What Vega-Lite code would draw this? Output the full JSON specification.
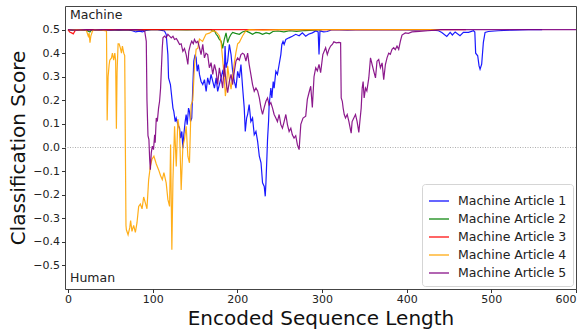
{
  "$schema": "https://vega.github.io/schema/vega-lite/v6.json",
  "width": 511,
  "height": 283,
  "autosize": {"type": "none"},
  "padding": {"left": 65, "top": 6, "right": 11, "bottom": 40},
  "background": "white",
  "config": {
    "font": "DejaVu Sans",
    "view": {"stroke": "#444", "strokeWidth": 1},
    "axis": {"grid": false, "domain": false, "tickColor": "#333", "tickSize": 3.5, "labelColor": "#222", "labelFontSize": 11, "labelPadding": 2, "labelOverlap": false, "titleFontSize": 20, "titleFontWeight": "normal", "titleColor": "#111"}
  },
  "encoding": {
    "x": {"field": "x", "type": "quantitative", "scale": {"domain": [-3.5, 600], "nice": false, "zero": false},
      "axis": {"values": [0, 100, 200, 300, 400, 500, 600], "title": "Encoded Sequence Length", "labelPadding": 1, "titlePadding": 4, "labelOverlap": false}},
    "y": {"field": "y", "type": "quantitative", "scale": {"domain": [-0.6, 0.6], "nice": false},
      "axis": {"values": [-0.5, -0.4, -0.3, -0.2, -0.1, 0, 0.1, 0.2, 0.3, 0.4, 0.5], "format": ".1f", "title": "Classification Score", "titlePadding": 4, "labelOverlap": false, "labelBound": false, "labelFlush": false}}
  },
  "layer": [
    {
      "data": {"values": [{"x": -3.5, "y": 0}, {"x": 600, "y": 0}]},
      "mark": {"type": "line", "color": "#999", "strokeDash": [1, 1.5], "strokeWidth": 0.8},
      "encoding": {}
    },
    {
      "data": {"values": [
        {"series":"Machine Article 1","x":0,"y":0.5},{"series":"Machine Article 1","x":5,"y":0.497},{"series":"Machine Article 1","x":10,"y":0.5},{"series":"Machine Article 1","x":20,"y":0.498},{"series":"Machine Article 1","x":30,"y":0.5},{"series":"Machine Article 1","x":40,"y":0.497},{"series":"Machine Article 1","x":50,"y":0.5},{"series":"Machine Article 1","x":60,"y":0.498},{"series":"Machine Article 1","x":70,"y":0.5},{"series":"Machine Article 1","x":76,"y":0.495},{"series":"Machine Article 1","x":80,"y":0.49},{"series":"Machine Article 1","x":84,"y":0.493},{"series":"Machine Article 1","x":88,"y":0.49},{"series":"Machine Article 1","x":92,"y":0.496},{"series":"Machine Article 1","x":98,"y":0.5},{"series":"Machine Article 1","x":106,"y":0.5},{"series":"Machine Article 1","x":114,"y":0.494},{"series":"Machine Article 1","x":116,"y":0.48},{"series":"Machine Article 1","x":118,"y":0.394},{"series":"Machine Article 1","x":118.8,"y":0.295},{"series":"Machine Article 1","x":121,"y":0.267},{"series":"Machine Article 1","x":122.7,"y":0.21},{"series":"Machine Article 1","x":124,"y":0.167},{"series":"Machine Article 1","x":125,"y":0.153},{"series":"Machine Article 1","x":126.7,"y":0.11},{"series":"Machine Article 1","x":127.8,"y":0.125},{"series":"Machine Article 1","x":129.8,"y":0.097},{"series":"Machine Article 1","x":131.8,"y":0.082},{"series":"Machine Article 1","x":133,"y":0.04},{"series":"Machine Article 1","x":134.5,"y":0.068},{"series":"Machine Article 1","x":135.7,"y":-0.003},{"series":"Machine Article 1","x":136.8,"y":0.054},{"series":"Machine Article 1","x":138.4,"y":0.11},{"series":"Machine Article 1","x":139.6,"y":0.14},{"series":"Machine Article 1","x":140.8,"y":0.097},{"series":"Machine Article 1","x":142.4,"y":0.167},{"series":"Machine Article 1","x":143.5,"y":0.153},{"series":"Machine Article 1","x":144.7,"y":0.11},{"series":"Machine Article 1","x":146.2,"y":0.125},{"series":"Machine Article 1","x":147.4,"y":0.252},{"series":"Machine Article 1","x":148.6,"y":0.366},{"series":"Machine Article 1","x":150.2,"y":0.394},{"series":"Machine Article 1","x":151.4,"y":0.38},{"series":"Machine Article 1","x":152.6,"y":0.323},{"series":"Machine Article 1","x":154,"y":0.352},{"series":"Machine Article 1","x":155.3,"y":0.31},{"series":"Machine Article 1","x":157.2,"y":0.28},{"series":"Machine Article 1","x":159.2,"y":0.267},{"series":"Machine Article 1","x":161.2,"y":0.288},{"series":"Machine Article 1","x":163.2,"y":0.238},{"series":"Machine Article 1","x":165,"y":0.295},{"series":"Machine Article 1","x":167,"y":0.267},{"series":"Machine Article 1","x":169,"y":0.31},{"series":"Machine Article 1","x":171,"y":0.28},{"series":"Machine Article 1","x":173,"y":0.252},{"series":"Machine Article 1","x":175,"y":0.295},{"series":"Machine Article 1","x":176.8,"y":0.238},{"series":"Machine Article 1","x":178.8,"y":0.267},{"series":"Machine Article 1","x":180.8,"y":0.295},{"series":"Machine Article 1","x":182.7,"y":0.323},{"series":"Machine Article 1","x":184.7,"y":0.3},{"series":"Machine Article 1","x":185.5,"y":0.43},{"series":"Machine Article 1","x":186.7,"y":0.338},{"series":"Machine Article 1","x":188.6,"y":0.366},{"series":"Machine Article 1","x":190.6,"y":0.437},{"series":"Machine Article 1","x":192.6,"y":0.394},{"series":"Machine Article 1","x":194.5,"y":0.323},{"series":"Machine Article 1","x":196.5,"y":0.28},{"series":"Machine Article 1","x":198.4,"y":0.252},{"series":"Machine Article 1","x":200.4,"y":0.323},{"series":"Machine Article 1","x":202.4,"y":0.295},{"series":"Machine Article 1","x":204.3,"y":0.352},{"series":"Machine Article 1","x":206.3,"y":0.252},{"series":"Machine Article 1","x":208.2,"y":0.167},{"series":"Machine Article 1","x":209.4,"y":0.068},{"series":"Machine Article 1","x":211,"y":0.125},{"series":"Machine Article 1","x":212.2,"y":0.14},{"series":"Machine Article 1","x":214,"y":0.182},{"series":"Machine Article 1","x":216,"y":0.11},{"series":"Machine Article 1","x":218,"y":0.125},{"series":"Machine Article 1","x":220,"y":0.054},{"series":"Machine Article 1","x":222,"y":0.068},{"series":"Machine Article 1","x":224,"y":0.026},{"series":"Machine Article 1","x":226,"y":-0.037},{"series":"Machine Article 1","x":228,"y":-0.065},{"series":"Machine Article 1","x":229.8,"y":-0.15},{"series":"Machine Article 1","x":231.8,"y":-0.165},{"series":"Machine Article 1","x":233,"y":-0.207},{"series":"Machine Article 1","x":233.8,"y":-0.15},{"series":"Machine Article 1","x":235,"y":-0.037},{"series":"Machine Article 1","x":235.7,"y":0.034},{"series":"Machine Article 1","x":236.9,"y":0.11},{"series":"Machine Article 1","x":237.6,"y":0.18},{"series":"Machine Article 1","x":239.6,"y":0.252},{"series":"Machine Article 1","x":240.8,"y":0.21},{"series":"Machine Article 1","x":242.4,"y":0.28},{"series":"Machine Article 1","x":243.5,"y":0.252},{"series":"Machine Article 1","x":245.5,"y":0.323},{"series":"Machine Article 1","x":247.4,"y":0.31},{"series":"Machine Article 1","x":249.4,"y":0.352},{"series":"Machine Article 1","x":251.4,"y":0.394},{"series":"Machine Article 1","x":252.6,"y":0.437},{"series":"Machine Article 1","x":254,"y":0.45},{"series":"Machine Article 1","x":255.3,"y":0.437},{"series":"Machine Article 1","x":257.3,"y":0.458},{"series":"Machine Article 1","x":261,"y":0.465},{"series":"Machine Article 1","x":265,"y":0.472},{"series":"Machine Article 1","x":269,"y":0.48},{"series":"Machine Article 1","x":273,"y":0.474},{"series":"Machine Article 1","x":276.8,"y":0.486},{"series":"Machine Article 1","x":280.8,"y":0.472},{"series":"Machine Article 1","x":284,"y":0.48},{"series":"Machine Article 1","x":288.6,"y":0.486},{"series":"Machine Article 1","x":292.6,"y":0.494},{"series":"Machine Article 1","x":295.5,"y":0.49},{"series":"Machine Article 1","x":296.5,"y":0.394},{"series":"Machine Article 1","x":297.6,"y":0.494},{"series":"Machine Article 1","x":302,"y":0.49},{"series":"Machine Article 1","x":306,"y":0.492},{"series":"Machine Article 1","x":312,"y":0.5},{"series":"Machine Article 1","x":330,"y":0.498},{"series":"Machine Article 1","x":350,"y":0.5},{"series":"Machine Article 1","x":370,"y":0.499},{"series":"Machine Article 1","x":390,"y":0.5},{"series":"Machine Article 1","x":410,"y":0.498},{"series":"Machine Article 1","x":425,"y":0.5},{"series":"Machine Article 1","x":437.6,"y":0.495},{"series":"Machine Article 1","x":441.5,"y":0.488},{"series":"Machine Article 1","x":447.4,"y":0.471},{"series":"Machine Article 1","x":451.4,"y":0.488},{"series":"Machine Article 1","x":454,"y":0.477},{"series":"Machine Article 1","x":457.3,"y":0.49},{"series":"Machine Article 1","x":463,"y":0.474},{"series":"Machine Article 1","x":467,"y":0.488},{"series":"Machine Article 1","x":473,"y":0.488},{"series":"Machine Article 1","x":479,"y":0.495},{"series":"Machine Article 1","x":480.5,"y":0.49},{"series":"Machine Article 1","x":481.5,"y":0.4},{"series":"Machine Article 1","x":483.9,"y":0.389},{"series":"Machine Article 1","x":485.5,"y":0.346},{"series":"Machine Article 1","x":486.7,"y":0.332},{"series":"Machine Article 1","x":488.6,"y":0.353},{"series":"Machine Article 1","x":490.6,"y":0.446},{"series":"Machine Article 1","x":492.6,"y":0.488},{"series":"Machine Article 1","x":496.5,"y":0.492},{"series":"Machine Article 1","x":508,"y":0.495},{"series":"Machine Article 1","x":524,"y":0.498},{"series":"Machine Article 1","x":543.5,"y":0.5},{"series":"Machine Article 1","x":560,"y":0.5},

        {"series":"Machine Article 2","x":0,"y":0.5},{"series":"Machine Article 2","x":10,"y":0.498},{"series":"Machine Article 2","x":20,"y":0.5},{"series":"Machine Article 2","x":26,"y":0.49},{"series":"Machine Article 2","x":28,"y":0.5},{"series":"Machine Article 2","x":40,"y":0.499},{"series":"Machine Article 2","x":60,"y":0.5},{"series":"Machine Article 2","x":80,"y":0.499},{"series":"Machine Article 2","x":100,"y":0.5},{"series":"Machine Article 2","x":120,"y":0.5},{"series":"Machine Article 2","x":140,"y":0.499},{"series":"Machine Article 2","x":160,"y":0.5},{"series":"Machine Article 2","x":169,"y":0.5},{"series":"Machine Article 2","x":171,"y":0.494},{"series":"Machine Article 2","x":173,"y":0.495},{"series":"Machine Article 2","x":175,"y":0.48},{"series":"Machine Article 2","x":176.8,"y":0.472},{"series":"Machine Article 2","x":178.8,"y":0.458},{"series":"Machine Article 2","x":180.8,"y":0.451},{"series":"Machine Article 2","x":181.6,"y":0.44},{"series":"Machine Article 2","x":182.7,"y":0.42},{"series":"Machine Article 2","x":184.7,"y":0.46},{"series":"Machine Article 2","x":186.7,"y":0.486},{"series":"Machine Article 2","x":188.6,"y":0.445},{"series":"Machine Article 2","x":190.6,"y":0.467},{"series":"Machine Article 2","x":192.6,"y":0.48},{"series":"Machine Article 2","x":194.5,"y":0.488},{"series":"Machine Article 2","x":198,"y":0.484},{"series":"Machine Article 2","x":202.4,"y":0.48},{"series":"Machine Article 2","x":206,"y":0.49},{"series":"Machine Article 2","x":210,"y":0.494},{"series":"Machine Article 2","x":214,"y":0.488},{"series":"Machine Article 2","x":218,"y":0.48},{"series":"Machine Article 2","x":222,"y":0.488},{"series":"Machine Article 2","x":226,"y":0.486},{"series":"Machine Article 2","x":229.8,"y":0.48},{"series":"Machine Article 2","x":234,"y":0.486},{"series":"Machine Article 2","x":238,"y":0.482},{"series":"Machine Article 2","x":242,"y":0.492},{"series":"Machine Article 2","x":248,"y":0.494},{"series":"Machine Article 2","x":255,"y":0.49},{"series":"Machine Article 2","x":262,"y":0.495},{"series":"Machine Article 2","x":270,"y":0.492},{"series":"Machine Article 2","x":280,"y":0.496},{"series":"Machine Article 2","x":290,"y":0.498},{"series":"Machine Article 2","x":300,"y":0.5},

        {"series":"Machine Article 3","x":0,"y":0.5},{"series":"Machine Article 3","x":2,"y":0.49},{"series":"Machine Article 3","x":4.3,"y":0.486},{"series":"Machine Article 3","x":6.3,"y":0.482},{"series":"Machine Article 3","x":8.2,"y":0.494},{"series":"Machine Article 3","x":10,"y":0.5},{"series":"Machine Article 3","x":40,"y":0.5},{"series":"Machine Article 3","x":80,"y":0.5},{"series":"Machine Article 3","x":120,"y":0.5},{"series":"Machine Article 3","x":160,"y":0.5},{"series":"Machine Article 3","x":200,"y":0.5},{"series":"Machine Article 3","x":240,"y":0.5},{"series":"Machine Article 3","x":280,"y":0.5},{"series":"Machine Article 3","x":320,"y":0.5},{"series":"Machine Article 3","x":360,"y":0.5},{"series":"Machine Article 3","x":400,"y":0.5},{"series":"Machine Article 3","x":440,"y":0.5},{"series":"Machine Article 3","x":470,"y":0.5},

        {"series":"Machine Article 4","x":0,"y":0.5},{"series":"Machine Article 4","x":10,"y":0.499},{"series":"Machine Article 4","x":20,"y":0.5},{"series":"Machine Article 4","x":22,"y":0.494},{"series":"Machine Article 4","x":24,"y":0.472},{"series":"Machine Article 4","x":25,"y":0.485},{"series":"Machine Article 4","x":26,"y":0.444},{"series":"Machine Article 4","x":27,"y":0.472},{"series":"Machine Article 4","x":29,"y":0.494},{"series":"Machine Article 4","x":32,"y":0.5},{"series":"Machine Article 4","x":40,"y":0.498},{"series":"Machine Article 4","x":45.5,"y":0.494},{"series":"Machine Article 4","x":46.3,"y":0.115},{"series":"Machine Article 4","x":47.4,"y":0.3},{"series":"Machine Article 4","x":48.6,"y":0.35},{"series":"Machine Article 4","x":49.4,"y":0.37},{"series":"Machine Article 4","x":51.4,"y":0.38},{"series":"Machine Article 4","x":52.5,"y":0.4},{"series":"Machine Article 4","x":54,"y":0.37},{"series":"Machine Article 4","x":55.3,"y":0.4},{"series":"Machine Article 4","x":56.3,"y":0.37},{"series":"Machine Article 4","x":57.2,"y":0.08},{"series":"Machine Article 4","x":58,"y":0.32},{"series":"Machine Article 4","x":59.2,"y":0.44},{"series":"Machine Article 4","x":60.4,"y":0.44},{"series":"Machine Article 4","x":62,"y":0.42},{"series":"Machine Article 4","x":63.2,"y":0.4},{"series":"Machine Article 4","x":64.3,"y":0.43},{"series":"Machine Article 4","x":65.9,"y":0.4},{"series":"Machine Article 4","x":67,"y":0.39},{"series":"Machine Article 4","x":67.8,"y":0.0},{"series":"Machine Article 4","x":68.5,"y":-0.33},{"series":"Machine Article 4","x":69,"y":-0.349},{"series":"Machine Article 4","x":71,"y":-0.37},{"series":"Machine Article 4","x":73,"y":-0.34},{"series":"Machine Article 4","x":74,"y":-0.31},{"series":"Machine Article 4","x":75.6,"y":-0.356},{"series":"Machine Article 4","x":77.6,"y":-0.33},{"series":"Machine Article 4","x":79.6,"y":-0.36},{"series":"Machine Article 4","x":81.5,"y":-0.32},{"series":"Machine Article 4","x":83.5,"y":-0.25},{"series":"Machine Article 4","x":85.5,"y":-0.24},{"series":"Machine Article 4","x":87.5,"y":-0.26},{"series":"Machine Article 4","x":89.4,"y":-0.21},{"series":"Machine Article 4","x":91.4,"y":-0.235},{"series":"Machine Article 4","x":93.3,"y":-0.26},{"series":"Machine Article 4","x":95.3,"y":-0.136},{"series":"Machine Article 4","x":97.3,"y":-0.08},{"series":"Machine Article 4","x":99.2,"y":-0.05},{"series":"Machine Article 4","x":101.5,"y":-0.037},{"series":"Machine Article 4","x":104.3,"y":-0.07},{"series":"Machine Article 4","x":107,"y":-0.094},{"series":"Machine Article 4","x":109.4,"y":-0.12},{"series":"Machine Article 4","x":111.4,"y":-0.136},{"series":"Machine Article 4","x":113.3,"y":-0.107},{"series":"Machine Article 4","x":116,"y":-0.15},{"series":"Machine Article 4","x":118,"y":-0.22},{"series":"Machine Article 4","x":120,"y":-0.25},{"series":"Machine Article 4","x":121.2,"y":0.013},{"series":"Machine Article 4","x":122.7,"y":-0.434},{"series":"Machine Article 4","x":124,"y":-0.136},{"series":"Machine Article 4","x":125.9,"y":0.09},{"series":"Machine Article 4","x":127.9,"y":-0.08},{"series":"Machine Article 4","x":129.8,"y":0.12},{"series":"Machine Article 4","x":131.8,"y":0.07},{"series":"Machine Article 4","x":133.7,"y":-0.18},{"series":"Machine Article 4","x":135.7,"y":0.005},{"series":"Machine Article 4","x":137.6,"y":0.034},{"series":"Machine Article 4","x":139.6,"y":0.09},{"series":"Machine Article 4","x":141.6,"y":-0.037},{"series":"Machine Article 4","x":143.5,"y":-0.065},{"series":"Machine Article 4","x":145.4,"y":0.18},{"series":"Machine Article 4","x":147.4,"y":0.2},{"series":"Machine Article 4","x":149.4,"y":0.346},{"series":"Machine Article 4","x":151.4,"y":0.417},{"series":"Machine Article 4","x":153.3,"y":0.42},{"series":"Machine Article 4","x":155.3,"y":0.46},{"series":"Machine Article 4","x":159,"y":0.45},{"series":"Machine Article 4","x":161,"y":0.465},{"series":"Machine Article 4","x":163,"y":0.48},{"series":"Machine Article 4","x":167,"y":0.485},{"series":"Machine Article 4","x":171,"y":0.495},{"series":"Machine Article 4","x":175,"y":0.49},{"series":"Machine Article 4","x":178.8,"y":0.474},{"series":"Machine Article 4","x":180.8,"y":0.446},{"series":"Machine Article 4","x":182.7,"y":0.374},{"series":"Machine Article 4","x":184.7,"y":0.29},{"series":"Machine Article 4","x":185.9,"y":0.218},{"series":"Machine Article 4","x":187.4,"y":0.26},{"series":"Machine Article 4","x":188.6,"y":0.346},{"series":"Machine Article 4","x":190.6,"y":0.29},{"series":"Machine Article 4","x":192.6,"y":0.247},{"series":"Machine Article 4","x":194.5,"y":0.3},{"series":"Machine Article 4","x":196.5,"y":0.36},{"series":"Machine Article 4","x":198.4,"y":0.403},{"series":"Machine Article 4","x":200.4,"y":0.44},{"series":"Machine Article 4","x":202.4,"y":0.446},{"series":"Machine Article 4","x":206.3,"y":0.474},{"series":"Machine Article 4","x":210,"y":0.494},{"series":"Machine Article 4","x":214,"y":0.5},{"series":"Machine Article 4","x":230,"y":0.498},{"series":"Machine Article 4","x":250,"y":0.5},{"series":"Machine Article 4","x":270,"y":0.5},{"series":"Machine Article 4","x":300,"y":0.5},{"series":"Machine Article 4","x":330,"y":0.5},{"series":"Machine Article 4","x":360,"y":0.5},{"series":"Machine Article 4","x":400,"y":0.5},{"series":"Machine Article 4","x":440,"y":0.5},

        {"series":"Machine Article 5","x":0,"y":0.5},{"series":"Machine Article 5","x":10,"y":0.498},{"series":"Machine Article 5","x":20,"y":0.5},{"series":"Machine Article 5","x":30,"y":0.499},{"series":"Machine Article 5","x":40,"y":0.5},{"series":"Machine Article 5","x":50,"y":0.498},{"series":"Machine Article 5","x":60,"y":0.5},{"series":"Machine Article 5","x":70,"y":0.499},{"series":"Machine Article 5","x":80,"y":0.5},{"series":"Machine Article 5","x":88,"y":0.497},{"series":"Machine Article 5","x":90.6,"y":0.494},{"series":"Machine Article 5","x":92.5,"y":0.45},{"series":"Machine Article 5","x":93.3,"y":0.2},{"series":"Machine Article 5","x":94.5,"y":0.05},{"series":"Machine Article 5","x":95.6,"y":0.034},{"series":"Machine Article 5","x":96.5,"y":-0.05},{"series":"Machine Article 5","x":97.3,"y":-0.094},{"series":"Machine Article 5","x":98.4,"y":-0.023},{"series":"Machine Article 5","x":99.6,"y":0.006},{"series":"Machine Article 5","x":101,"y":-0.009},{"series":"Machine Article 5","x":102.4,"y":0.054},{"series":"Machine Article 5","x":103,"y":0.02},{"series":"Machine Article 5","x":104.3,"y":0.125},{"series":"Machine Article 5","x":105.5,"y":0.11},{"series":"Machine Article 5","x":107,"y":0.167},{"series":"Machine Article 5","x":108.2,"y":0.196},{"series":"Machine Article 5","x":109.4,"y":0.252},{"series":"Machine Article 5","x":110.2,"y":0.323},{"series":"Machine Article 5","x":111.4,"y":0.423},{"series":"Machine Article 5","x":112.2,"y":0.465},{"series":"Machine Article 5","x":114,"y":0.472},{"series":"Machine Article 5","x":116,"y":0.465},{"series":"Machine Article 5","x":118,"y":0.48},{"series":"Machine Article 5","x":120,"y":0.472},{"series":"Machine Article 5","x":122,"y":0.465},{"series":"Machine Article 5","x":124,"y":0.472},{"series":"Machine Article 5","x":125.9,"y":0.458},{"series":"Machine Article 5","x":128,"y":0.462},{"series":"Machine Article 5","x":129.8,"y":0.451},{"series":"Machine Article 5","x":131.8,"y":0.437},{"series":"Machine Article 5","x":133.7,"y":0.44},{"series":"Machine Article 5","x":135.7,"y":0.408},{"series":"Machine Article 5","x":137.6,"y":0.42},{"series":"Machine Article 5","x":139.6,"y":0.394},{"series":"Machine Article 5","x":141.6,"y":0.352},{"series":"Machine Article 5","x":142.7,"y":0.408},{"series":"Machine Article 5","x":144.7,"y":0.437},{"series":"Machine Article 5","x":146.2,"y":0.451},{"series":"Machine Article 5","x":148,"y":0.44},{"series":"Machine Article 5","x":149.4,"y":0.458},{"series":"Machine Article 5","x":151.4,"y":0.444},{"series":"Machine Article 5","x":153.3,"y":0.45},{"series":"Machine Article 5","x":155.3,"y":0.423},{"series":"Machine Article 5","x":157.2,"y":0.394},{"series":"Machine Article 5","x":159.2,"y":0.437},{"series":"Machine Article 5","x":161.2,"y":0.38},{"series":"Machine Article 5","x":163,"y":0.4},{"series":"Machine Article 5","x":165,"y":0.394},{"series":"Machine Article 5","x":167,"y":0.338},{"series":"Machine Article 5","x":169,"y":0.36},{"series":"Machine Article 5","x":171,"y":0.31},{"series":"Machine Article 5","x":173,"y":0.352},{"series":"Machine Article 5","x":175,"y":0.323},{"series":"Machine Article 5","x":176.8,"y":0.267},{"series":"Machine Article 5","x":178.8,"y":0.338},{"series":"Machine Article 5","x":180.8,"y":0.295},{"series":"Machine Article 5","x":182.7,"y":0.252},{"series":"Machine Article 5","x":184.7,"y":0.352},{"series":"Machine Article 5","x":186.7,"y":0.28},{"series":"Machine Article 5","x":188.6,"y":0.233},{"series":"Machine Article 5","x":190.6,"y":0.28},{"series":"Machine Article 5","x":192.6,"y":0.31},{"series":"Machine Article 5","x":194.5,"y":0.267},{"series":"Machine Article 5","x":196.5,"y":0.323},{"series":"Machine Article 5","x":198.4,"y":0.366},{"series":"Machine Article 5","x":200.4,"y":0.38},{"series":"Machine Article 5","x":202.4,"y":0.37},{"series":"Machine Article 5","x":204.3,"y":0.394},{"series":"Machine Article 5","x":206.3,"y":0.4},{"series":"Machine Article 5","x":208.2,"y":0.394},{"series":"Machine Article 5","x":210.2,"y":0.366},{"series":"Machine Article 5","x":212.2,"y":0.4},{"series":"Machine Article 5","x":214,"y":0.352},{"series":"Machine Article 5","x":216,"y":0.31},{"series":"Machine Article 5","x":218,"y":0.267},{"series":"Machine Article 5","x":220,"y":0.238},{"series":"Machine Article 5","x":222,"y":0.252},{"series":"Machine Article 5","x":224,"y":0.24},{"series":"Machine Article 5","x":226,"y":0.21},{"series":"Machine Article 5","x":228,"y":0.167},{"series":"Machine Article 5","x":229.8,"y":0.14},{"series":"Machine Article 5","x":231.8,"y":0.17},{"series":"Machine Article 5","x":233.8,"y":0.196},{"series":"Machine Article 5","x":235.7,"y":0.21},{"series":"Machine Article 5","x":237.6,"y":0.18},{"series":"Machine Article 5","x":239.6,"y":0.19},{"series":"Machine Article 5","x":241.6,"y":0.167},{"series":"Machine Article 5","x":243.5,"y":0.14},{"series":"Machine Article 5","x":245.5,"y":0.125},{"series":"Machine Article 5","x":247.4,"y":0.11},{"series":"Machine Article 5","x":249.4,"y":0.14},{"series":"Machine Article 5","x":251.4,"y":0.097},{"series":"Machine Article 5","x":253.3,"y":0.082},{"series":"Machine Article 5","x":255.3,"y":0.11},{"series":"Machine Article 5","x":257.3,"y":0.14},{"series":"Machine Article 5","x":259.2,"y":0.097},{"series":"Machine Article 5","x":261.2,"y":0.068},{"series":"Machine Article 5","x":263.2,"y":0.082},{"series":"Machine Article 5","x":265,"y":0.054},{"series":"Machine Article 5","x":267,"y":0.04},{"series":"Machine Article 5","x":269,"y":0.05},{"series":"Machine Article 5","x":271,"y":0.011},{"series":"Machine Article 5","x":273,"y":-0.009},{"series":"Machine Article 5","x":275,"y":0.098},{"series":"Machine Article 5","x":277.6,"y":0.125},{"series":"Machine Article 5","x":280.8,"y":0.133},{"series":"Machine Article 5","x":282.7,"y":0.204},{"series":"Machine Article 5","x":284.5,"y":0.23},{"series":"Machine Article 5","x":286.7,"y":0.26},{"series":"Machine Article 5","x":288.6,"y":0.17},{"series":"Machine Article 5","x":290.6,"y":0.3},{"series":"Machine Article 5","x":292.6,"y":0.338},{"series":"Machine Article 5","x":294.5,"y":0.325},{"series":"Machine Article 5","x":296.5,"y":0.352},{"series":"Machine Article 5","x":298.4,"y":0.317},{"series":"Machine Article 5","x":301,"y":0.394},{"series":"Machine Article 5","x":304.3,"y":0.423},{"series":"Machine Article 5","x":306.3,"y":0.394},{"series":"Machine Article 5","x":308.2,"y":0.416},{"series":"Machine Article 5","x":310.2,"y":0.43},{"series":"Machine Article 5","x":312.2,"y":0.437},{"series":"Machine Article 5","x":314,"y":0.448},{"series":"Machine Article 5","x":317,"y":0.444},{"series":"Machine Article 5","x":320,"y":0.446},{"series":"Machine Article 5","x":322,"y":0.444},{"series":"Machine Article 5","x":322.7,"y":0.21},{"series":"Machine Article 5","x":324,"y":0.196},{"series":"Machine Article 5","x":325,"y":0.167},{"series":"Machine Article 5","x":326.3,"y":0.14},{"series":"Machine Article 5","x":327.8,"y":0.125},{"series":"Machine Article 5","x":329.8,"y":0.14},{"series":"Machine Article 5","x":331.8,"y":0.11},{"series":"Machine Article 5","x":333.7,"y":0.075},{"series":"Machine Article 5","x":334.5,"y":0.061},{"series":"Machine Article 5","x":335.6,"y":0.11},{"series":"Machine Article 5","x":337.6,"y":0.125},{"series":"Machine Article 5","x":339.6,"y":0.14},{"series":"Machine Article 5","x":341.5,"y":0.11},{"series":"Machine Article 5","x":343.5,"y":0.064},{"series":"Machine Article 5","x":345,"y":0.12},{"series":"Machine Article 5","x":346.3,"y":0.167},{"series":"Machine Article 5","x":347.5,"y":0.252},{"series":"Machine Article 5","x":348.6,"y":0.28},{"series":"Machine Article 5","x":349.8,"y":0.21},{"series":"Machine Article 5","x":351.4,"y":0.252},{"series":"Machine Article 5","x":353,"y":0.24},{"series":"Machine Article 5","x":355.3,"y":0.295},{"series":"Machine Article 5","x":357.3,"y":0.38},{"series":"Machine Article 5","x":359.2,"y":0.352},{"series":"Machine Article 5","x":361.2,"y":0.323},{"series":"Machine Article 5","x":363.2,"y":0.295},{"series":"Machine Article 5","x":365,"y":0.366},{"series":"Machine Article 5","x":367,"y":0.373},{"series":"Machine Article 5","x":369,"y":0.338},{"series":"Machine Article 5","x":371,"y":0.359},{"series":"Machine Article 5","x":372.9,"y":0.288},{"series":"Machine Article 5","x":374.9,"y":0.352},{"series":"Machine Article 5","x":376.8,"y":0.38},{"series":"Machine Article 5","x":378.8,"y":0.4},{"series":"Machine Article 5","x":380.7,"y":0.395},{"series":"Machine Article 5","x":382.7,"y":0.416},{"series":"Machine Article 5","x":384.7,"y":0.423},{"series":"Machine Article 5","x":386.6,"y":0.415},{"series":"Machine Article 5","x":388.6,"y":0.43},{"series":"Machine Article 5","x":390.6,"y":0.416},{"series":"Machine Article 5","x":392.6,"y":0.451},{"series":"Machine Article 5","x":394.5,"y":0.477},{"series":"Machine Article 5","x":398.4,"y":0.486},{"series":"Machine Article 5","x":402,"y":0.484},{"series":"Machine Article 5","x":406.3,"y":0.49},{"series":"Machine Article 5","x":415,"y":0.492},{"series":"Machine Article 5","x":425,"y":0.495},{"series":"Machine Article 5","x":433.7,"y":0.498},{"series":"Machine Article 5","x":440,"y":0.5},{"series":"Machine Article 5","x":470,"y":0.5},{"series":"Machine Article 5","x":500,"y":0.5},{"series":"Machine Article 5","x":530,"y":0.5},{"series":"Machine Article 5","x":560,"y":0.5},{"series":"Machine Article 5","x":600,"y":0.5}
      ]},
      "mark": {"type": "line", "strokeWidth": 1.2, "opacity": 0.9},
      "encoding": {
        "color": {"field": "series", "type": "nominal",
          "scale": {"domain": ["Machine Article 1", "Machine Article 2", "Machine Article 3", "Machine Article 4", "Machine Article 5"], "range": ["#0000ff", "#008000", "#ff0000", "#ffa500", "#800080"]},
          "legend": {"title": null, "orient": "bottom-right", "offset": 3, "fillColor": "white", "strokeColor": "#d5d5d5", "cornerRadius": 3, "padding": 6, "symbolType": "stroke", "symbolStrokeWidth": 2, "symbolSize": 400, "symbolOpacity": 0.6, "labelFontSize": 12.5, "labelColor": "#222", "rowPadding": 0, "labelOffset": 8}}
      }
    },
    {
      "data": {"values": [{"label": "Machine", "x": 2.4, "y": 0.562}, {"label": "Human", "x": 2.4, "y": -0.553}]},
      "mark": {"type": "text", "align": "left", "baseline": "middle", "fontSize": 12.5, "color": "#222"},
      "encoding": {
        "text": {"field": "label"}
      }
    }
  ]
}
